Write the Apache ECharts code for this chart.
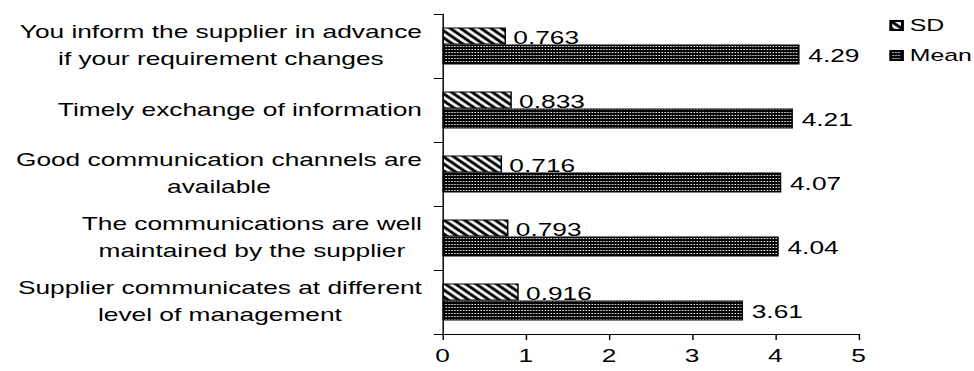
<!DOCTYPE html>
<html>
<head>
<meta charset="utf-8">
<script src="https://cdn.jsdelivr.net/npm/echarts@6/dist/echarts.min.js"></script>
<style>
  html, body { margin: 0; padding: 0; background: #fff; overflow: hidden; }
  #wrap { width: 974px; height: 371px; overflow: hidden; }
  /* the chart is laid out narrow and widened horizontally to get the broad lettering */
  #chart { width: 667px; height: 371px; transform: scaleX(1.4603); transform-origin: 0 0; }
</style>
</head>
<body>
<div id="wrap"><div id="chart"></div></div>
<script>
// Communication items, top to bottom
const categories = [
  'You inform the supplier in advance\nif your requirement changes',
  'Timely exchange of information',
  'Good communication channels are\navailable',
  'The communications are well\nmaintained by the supplier',
  'Supplier communicates at different\nlevel of management'
];
const sdValues = [0.763, 0.833, 0.716, 0.793, 0.916];
const meanValues = [4.29, 4.21, 4.07, 4.04, 3.61];
const xTicks = [0, 1, 2, 3, 4, 5];

// Hatch fill: diagonal black/white stripes running top-left to bottom-right
function stripePattern() {
  const s = 7;
  const c = document.createElement('canvas');
  c.width = s; c.height = s;
  const g = c.getContext('2d');
  g.fillStyle = '#fff';
  g.fillRect(0, 0, s, s);
  g.strokeStyle = '#000';
  g.lineWidth = 2.6;
  for (let k = -s; k <= s; k += s) {
    g.beginPath();
    g.moveTo(k - 1, -1);
    g.lineTo(k + s + 1, s + 1);
    g.stroke();
  }
  return c;
}

// Dense dot fill: black ground with a grid of white points
function dotPattern() {
  const c = document.createElement('canvas');
  c.width = 2; c.height = 3;
  const g = c.getContext('2d');
  g.fillStyle = '#000';
  g.fillRect(0, 0, 2, 3);
  g.fillStyle = '#fff';
  g.fillRect(1, 1, 1, 1);
  return c;
}

const font = '"Liberation Sans", Arial, sans-serif';
const chart = echarts.init(document.getElementById('chart'), null, { renderer: 'svg' });

const stripe = stripePattern();
const dots = dotPattern();

chart.setOption({
  animation: false,
  backgroundColor: '#fff',
  textStyle: { fontFamily: font, color: '#000' },
  legend: {
    orient: 'vertical',
    left: 604,
    top: 12,
    icon: 'rect',
    itemWidth: 8,
    itemHeight: 9,
    itemGap: 13,
    textStyle: { fontFamily: font, fontSize: 17, color: '#000' },
    data: ['SD', 'Mean']
  },
  grid: { left: 303, right: 79, top: 14, bottom: 37 },
  xAxis: {
    type: 'value',
    min: 0,
    max: 5,
    interval: 1,
    splitLine: { show: false },
    axisLine: { show: true, lineStyle: { color: '#000', width: 1 } },
    axisTick: { show: true, length: 6, lineStyle: { color: '#000' } },
    axisLabel: {
      fontFamily: font, fontSize: 18, color: '#000', margin: 13,
      formatter: v => xTicks.includes(v) ? String(v) : ''
    }
  },
  yAxis: {
    type: 'category',
    inverse: true,
    data: categories,
    axisLine: { show: true, lineStyle: { color: '#000', width: 1 } },
    axisTick: { show: true, length: 6, lineStyle: { color: '#000' } },
    axisLabel: {
      fontFamily: font, fontSize: 18, color: '#000', margin: 14,
      align: 'right',
      // each line centred inside the label block
      formatter: v => v.split('\n').map(s => '{c|' + s + '}').join('\n'),
      rich: {
        c: { fontFamily: font, fontSize: 18, color: '#000', lineHeight: 27, align: 'center' }
      }
    }
  },
  series: [
    {
      name: 'SD',
      type: 'bar',
      data: sdValues,
      barWidth: 17,
      barGap: '0%',
      itemStyle: {
        color: { image: stripe, repeat: 'repeat', imageWidth: stripe.width, imageHeight: stripe.height },
        borderColor: '#000',
        borderWidth: 1
      },
      label: {
        show: true, position: 'right', distance: 5,
        fontFamily: font, fontSize: 18, color: '#000',
        offset: [0, 2],
        formatter: p => String(p.value)
      }
    },
    {
      name: 'Mean',
      type: 'bar',
      data: meanValues,
      barWidth: 20,
      itemStyle: {
        color: { image: dots, repeat: 'repeat', imageWidth: dots.width, imageHeight: dots.height },
        borderColor: '#000',
        borderWidth: 1
      },
      label: {
        show: true, position: 'right', distance: 6,
        fontFamily: font, fontSize: 18, color: '#000',
        offset: [0, 2],
        formatter: p => String(p.value)
      }
    }
  ]
});
</script>
</body>
</html>
